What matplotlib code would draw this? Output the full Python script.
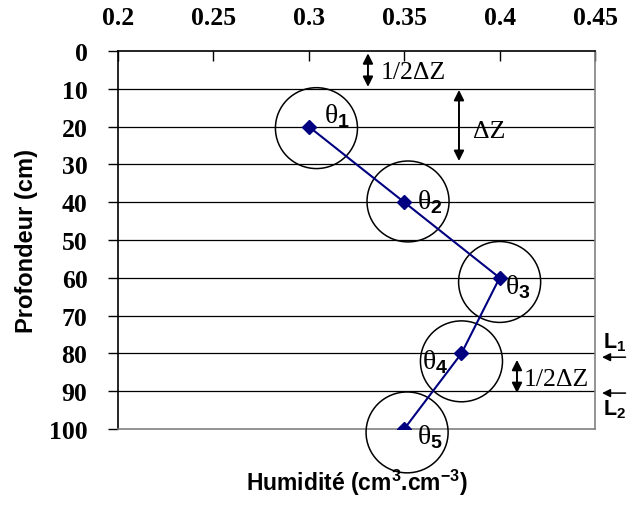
import matplotlib
matplotlib.use('Agg')
import matplotlib.pyplot as plt
from matplotlib.patches import Ellipse

plt.rcParams['mathtext.fontset'] = 'custom'
plt.rcParams['mathtext.rm'] = 'Liberation Serif'
plt.rcParams['mathtext.sf'] = 'Liberation Sans:bold'

# measured points
humidite = [0.30, 0.35, 0.40, 0.38, 0.35]
profondeur = [20, 40, 60, 80, 100]
labels = ['1', '2', '3', '4', '5']

# circles drawn round each point (centres)
circle_x = [0.304, 0.352, 0.400, 0.380, 0.3515]
circle_y = [20.4, 39.8, 61.1, 82.1, 100.9]
circle_w = 0.043
circle_h = 21.4

# theta label positions
theta_x = [0.3148, 0.3635, 0.4096, 0.3661, 0.3635]
theta_y = [16.9, 39.7, 62.2, 82.0, 101.9]

xticks = [0.2, 0.25, 0.3, 0.35, 0.4, 0.45]
xtick_labels = ['0.2', '0.25', '0.3', '0.35', '0.4', '0.45']
yticks = list(range(0, 101, 10))

fig = plt.figure(figsize=(6.28, 5.06), dpi=100)
ax = fig.add_axes([0.1879, 0.1502, 0.7596, 0.747])

for y in yticks[1:-1]:
    ax.axhline(y, color='black', lw=0.9, zorder=1)

ax.plot(humidite, profondeur, color='#000080', lw=1.5, marker='D',
        markersize=7, markerfacecolor='#000080', markeredgecolor='#000080', zorder=4)

for cx, cy in zip(circle_x, circle_y):
    ax.add_patch(Ellipse((cx, cy), circle_w, circle_h, fill=False,
                         edgecolor='black', lw=1.1, zorder=3, clip_on=False))

for tx, ty, lab in zip(theta_x, theta_y, labels):
    ax.text(tx, ty, r'$\mathrm{\theta}_\mathsf{' + lab + '}$', fontsize=20,
            ha='center', va='center', zorder=5, clip_on=False)

arrow_kw = dict(arrowstyle='<|-|>', color='black', lw=1.4, mutation_scale=15,
                shrinkA=0, shrinkB=0)
ax.annotate('', xy=(0.331, 0.6), xytext=(0.331, 9.5), arrowprops=arrow_kw)
ax.text(0.3378, 5.5, '1/2ΔZ', family='Liberation Serif', fontsize=18.5, va='center')
ax.annotate('', xy=(0.3787, 10.3), xytext=(0.3787, 29.1), arrowprops=arrow_kw)
ax.text(0.386, 21.2, 'ΔZ', family='Liberation Serif', fontsize=18.5, va='center')
ax.annotate('', xy=(0.4091, 81.7), xytext=(0.4091, 90.5), arrowprops=arrow_kw)
ax.text(0.4128, 86.8, '1/2ΔZ', family='Liberation Serif', fontsize=18.5, va='center')

left_kw = dict(arrowstyle='-|>', color='black', lw=1.1, mutation_scale=12,
               shrinkA=0, shrinkB=0)
ax.annotate('', xy=(0.4537, 81.0), xytext=(0.4660, 81.0), arrowprops=left_kw,
            annotation_clip=False)
ax.annotate('', xy=(0.4537, 90.5), xytext=(0.4660, 90.5), arrowprops=left_kw,
            annotation_clip=False)
ax.text(0.4603, 77.0, r'L$_\mathsf{1}$', family='Liberation Sans', fontweight='bold',
        fontsize=15.5, ha='center', va='center', clip_on=False)
ax.text(0.4603, 94.7, r'L$_\mathsf{2}$', family='Liberation Sans', fontweight='bold',
        fontsize=15.5, ha='center', va='center', clip_on=False)

ax.set_xlim(0.2, 0.45)
ax.set_ylim(100, 0)
ax.xaxis.tick_top()
ax.set_xticks(xticks)
ax.set_xticklabels(xtick_labels)
ax.set_yticks(yticks)
ax.tick_params(axis='x', direction='in', length=7, width=1, pad=16,
               labelsize=18.5)
ax.tick_params(axis='y', direction='out', length=7, width=1, pad=15,
               labelsize=18.5)
for t in ax.get_xticklabels() + ax.get_yticklabels():
    t.set_fontfamily('Liberation Serif')
    t.set_fontweight('bold')

ax.spines['top'].set_color('black')
ax.spines['left'].set_color('black')
ax.spines['right'].set_color('#808080')
ax.spines['bottom'].set_color('#808080')
for s in ax.spines.values():
    s.set_linewidth(1.2)

ax.set_ylabel('Profondeur (cm)', family='Liberation Sans', fontweight='bold',
              fontsize=17, labelpad=8)
ax.xaxis.set_label_position('bottom')
ax.set_xlabel('Humidité (cm$^\\mathsf{3}$.cm$^\\mathsf{-3}$)', family='Liberation Sans',
              fontweight='bold', fontsize=16.5, labelpad=27)

fig.savefig('out.png', dpi=100)
